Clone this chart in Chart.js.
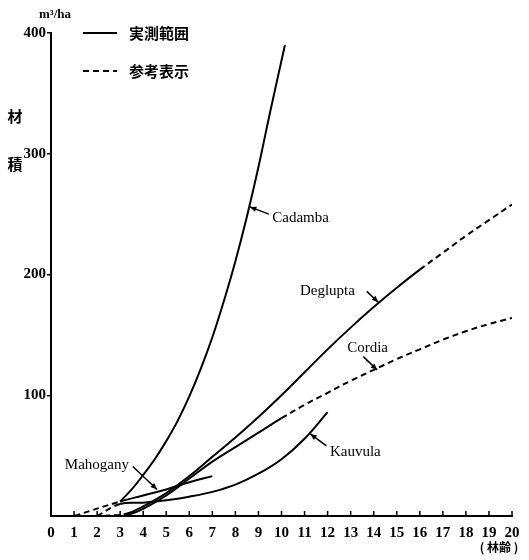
<!DOCTYPE html>
<html>
<head>
<meta charset="utf-8">
<script src="https://cdn.jsdelivr.net/npm/chart.js@4/dist/chart.umd.min.js"></script>
<style>
  body { margin: 0; background: #fff; }
  #wrap { width: 529px; height: 560px; }
</style>
</head>
<body>
<div id="wrap"><canvas id="chart" width="529" height="560"></canvas></div>
<script>
// 林齢 (years) and 材積 (m3/ha)
const cadambaAge = [3, 3.5, 4, 4.5, 5, 5.5, 6, 6.5, 7, 7.5, 8, 8.5, 9, 9.5, 10.15];
const cadambaVol = [12, 22, 34, 47, 62, 79, 99, 122, 148, 178, 211, 248, 289, 334, 390];

const degluptaAge = [2.3, 3.3, 4, 5, 6, 7, 8, 9, 10, 11, 12, 13, 14, 15, 16, 17, 18, 19, 20];
const degluptaVol = [0, 2, 8, 19, 33, 49, 65, 82, 100, 119, 138, 156, 173, 189, 204, 218, 232, 245, 258];

const cordiaAge = [2.3, 3.3, 4, 5, 6, 7, 8, 9, 10, 11, 12, 13, 14, 15, 16, 17, 18, 19, 20];
const cordiaVol = [0, 1, 6, 17, 31, 45, 57, 69, 81, 92, 102, 112, 121, 130, 138, 146, 153, 159, 164];

const kauvulaAge = [2, 3, 4, 5, 6, 7, 8, 9, 10, 11, 12];
const kauvulaVol = [0, 10, 11, 13, 16, 20, 26, 35, 47, 64, 86];

const mahoganyAge = [1, 3, 4, 5, 6, 7];
const mahoganyVol = [0, 12, 17, 22, 28, 33];

// measured range (実測範囲) per species; outside it the line is dashed (参考表示)
const measuredFrom = { Cadamba: 3, Deglupta: 3.3, Cordia: 3.3, Kauvula: 3, Mahogany: 3 };
const measuredTo = { Cadamba: 10.15, Deglupta: 16, Cordia: 10, Kauvula: 12, Mahogany: 7 };

const xTicks = [0, 1, 2, 3, 4, 5, 6, 7, 8, 9, 10, 11, 12, 13, 14, 15, 16, 17, 18, 19, 20];
const yTicks = [100, 200, 300, 400];

const serif = '"Liberation Serif", "DejaVu Serif", serif';
const cjk = '"Noto Sans CJK JP", sans-serif';

function pairs(xs, ys) {
    return xs.map((x, i) => ({ x: x, y: ys[i] }));
}

function makeSet(name, xs, ys) {
    const lo = measuredFrom[name];
    const hi = measuredTo[name];
    return {
        label: name,
        data: pairs(xs, ys),
        borderColor: '#000',
        borderWidth: 2,
        pointRadius: 0,
        fill: false,
        tension: 0.4,
        segment: {
            borderDash: ctx => (ctx.p0.parsed.x < lo - 1e-6 || ctx.p1.parsed.x > hi + 1e-6) ? [6, 4] : undefined
        }
    };
}

// curve labels with arrows, in data units
const notes = [
    { text: 'Cadamba', tx: 9.6, ty: 247, from: [9.45, 250], to: [8.63, 256] },
    { text: 'Deglupta', tx: 10.8, ty: 186, from: [13.7, 186], to: [14.2, 177] },
    { text: 'Cordia', tx: 12.85, ty: 139, from: [13.55, 132], to: [14.15, 121] },
    { text: 'Kauvula', tx: 12.1, ty: 53, from: [11.95, 58], to: [11.25, 68] },
    { text: 'Mahogany', tx: 0.6, ty: 42, from: [3.55, 41], to: [4.6, 22] }
];

function arrow(ctx, x0, y0, x1, y1) {
    ctx.beginPath();
    ctx.moveTo(x0, y0);
    ctx.lineTo(x1, y1);
    ctx.stroke();
    const a = Math.atan2(y1 - y0, x1 - x0);
    ctx.beginPath();
    ctx.moveTo(x1, y1);
    ctx.lineTo(x1 - 7 * Math.cos(a - 0.4), y1 - 7 * Math.sin(a - 0.4));
    ctx.lineTo(x1 - 7 * Math.cos(a + 0.4), y1 - 7 * Math.sin(a + 0.4));
    ctx.closePath();
    ctx.fill();
}

const decor = {
    id: 'decor',
    afterDraw(chart) {
        const ctx = chart.ctx;
        const xs = chart.scales.x;
        const ys = chart.scales.y;
        const area = chart.chartArea;
        ctx.save();
        ctx.strokeStyle = '#000';
        ctx.fillStyle = '#000';

        // inward ticks on the age axis
        ctx.lineWidth = 1.5;
        xTicks.forEach(t => {
            if (t === 0) return;
            const px = xs.getPixelForValue(t);
            ctx.beginPath();
            ctx.moveTo(px, area.bottom);
            ctx.lineTo(px, area.bottom - 5);
            ctx.stroke();
        });

        // legend
        ctx.lineWidth = 2;
        ctx.beginPath();
        ctx.moveTo(83, 33);
        ctx.lineTo(117, 33);
        ctx.stroke();
        ctx.setLineDash([6, 4]);
        ctx.beginPath();
        ctx.moveTo(83, 71);
        ctx.lineTo(117, 71);
        ctx.stroke();
        ctx.setLineDash([]);
        ctx.font = 'bold 15px ' + cjk;
        ctx.textAlign = 'left';
        ctx.textBaseline = 'middle';
        ctx.fillText('実測範囲', 129, 33);
        ctx.fillText('参考表示', 129, 71);

        // axis titles
        ctx.font = 'bold 13px ' + serif;
        ctx.textAlign = 'center';
        ctx.fillText('m³/ha', 55, 15);
        ctx.font = 'bold 15px ' + cjk;
        ctx.fillText('材', 15, 116);
        ctx.fillText('積', 15, 164);
        ctx.font = 'bold 12px ' + cjk;
        ctx.fillText('( 林齢 )', 499, 547);

        // curve labels
        ctx.font = '15px ' + serif;
        ctx.textAlign = 'left';
        ctx.lineWidth = 1.5;
        notes.forEach(n => {
            ctx.fillText(n.text, xs.getPixelForValue(n.tx), ys.getPixelForValue(n.ty));
            arrow(ctx,
                xs.getPixelForValue(n.from[0]), ys.getPixelForValue(n.from[1]),
                xs.getPixelForValue(n.to[0]), ys.getPixelForValue(n.to[1]));
        });
        ctx.restore();
    }
};

new Chart(document.getElementById('chart'), {
    type: 'line',
    data: {
        datasets: [
            makeSet('Cadamba', cadambaAge, cadambaVol),
            makeSet('Deglupta', degluptaAge, degluptaVol),
            makeSet('Cordia', cordiaAge, cordiaVol),
            makeSet('Kauvula', kauvulaAge, kauvulaVol),
            makeSet('Mahogany', mahoganyAge, mahoganyVol)
        ]
    },
    options: {
        responsive: false,
        animation: false,
        layout: { padding: { left: 0, top: 33, right: 17, bottom: 0 } },
        plugins: {
            legend: { display: false },
            tooltip: { enabled: false }
        },
        scales: {
            x: {
                type: 'linear',
                min: 0,
                max: 20,
                afterFit: s => { s.height = 44; },
                afterBuildTicks: s => { s.ticks = xTicks.map(v => ({ value: v })); },
                grid: { display: false },
                border: { display: true, color: '#000', width: 2 },
                ticks: {
                    color: '#000',
                    padding: 0,
                    maxRotation: 0,
                    autoSkip: false,
                    font: { family: serif, size: 15, weight: 'bold' }
                }
            },
            y: {
                min: 0,
                max: 400,
                afterFit: s => { s.width = 51; },
                afterBuildTicks: s => { s.ticks = yTicks.map(v => ({ value: v })); },
                grid: { display: true, drawOnChartArea: false, drawTicks: true, tickLength: 4, color: '#000', lineWidth: 1.5 },
                border: { display: true, color: '#000', width: 2 },
                ticks: {
                    color: '#000',
                    padding: 1,
                    font: { family: serif, size: 15, weight: 'bold' }
                }
            }
        }
    },
    plugins: [decor]
});
</script>
</body>
</html>
